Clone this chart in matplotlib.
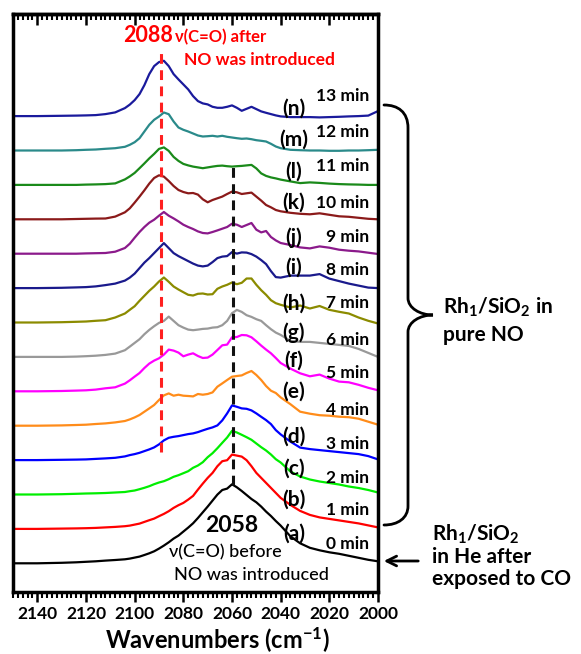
import numpy as np
import matplotlib
matplotlib.use('Agg')
import matplotlib.pyplot as plt
from matplotlib.path import Path
from matplotlib.patches import PathPatch
from matplotlib.ticker import MultipleLocator

plt.rcParams['font.family'] = ['Lato', 'DejaVu Sans']
plt.rcParams['font.weight'] = 'bold'
plt.rcParams['axes.labelweight'] = 'bold'
plt.rcParams['mathtext.fontset'] = 'custom'
plt.rcParams['mathtext.rm'] = 'Lato:bold'
plt.rcParams['mathtext.it'] = 'Lato:bold'
plt.rcParams['mathtext.bf'] = 'Lato:bold'

# ---- data (absorbance in arbitrary units) ----
wavenumber = [2150, 2140, 2130, 2124, 2120, 2116, 2112, 2108,
              2104, 2102, 2100, 2098, 2096, 2094, 2092, 2090, 2088, 2086, 2084, 2082,
              2080, 2078, 2076, 2074, 2072, 2070, 2068, 2066, 2064, 2062, 2060, 2058,
              2056, 2054, 2052, 2050, 2048, 2046, 2044, 2042, 2040,
              2036, 2032, 2028, 2024, 2020, 2016, 2012, 2008, 2004, 2000]

a_0min = [0, 0, 0.5, 1, 1.5, 2, 2.7, 3.3,
          4, 4.7, 5.7, 6.7, 8.3, 10, 12, 14.7, 17.7, 21, 24.7, 27.7, 31.7, 35.7, 40, 45.3,
          51, 56.7, 62.7, 68.7, 73.3, 74.7, 79, 76, 72.3, 68.3, 64.3, 61, 56.7, 51.7, 47.3, 42.3, 37.7,
          27, 20, 15.5, 13, 11, 9.5, 7.5, 5.5, 3.5, 2]
b_1min = [0, 0, 0.3, 0.5, 0.7, 1, 1.5, 2,
          2.7, 3.3, 4.3, 5.3, 7, 8.7, 10.3, 12.7, 15, 17.7, 21, 23.7, 26, 29.3, 33, 39.3,
          45.3, 51, 56, 62.7, 67.7, 68.7, 74.3, 73.3, 72.3, 68.7, 62.7, 56, 51, 46, 41, 36, 31,
          24, 18, 14, 11.5, 10, 8.5, 7, 5.5, 3.5, 1.5]
c_2min = [0, 0, 0.3, 0.7, 1, 1.2, 1.5, 2,
          2.5, 3.3, 4, 5.3, 6.7, 8.3, 10.3, 12, 13.3, 15.3, 17.7, 19.3, 21.3, 23.3, 26.7, 29,
          32.3, 37.3, 41.3, 46.3, 51.7, 57, 63.7, 62, 59.7, 57.3, 54.7, 51, 47.3, 44, 40, 35.3, 32,
          23, 18, 15, 13, 11.5, 10, 8, 6.5, 4.5, 2]
d_3min = [0, 0, 0.3, 0.5, 0.7, 1.2, 1.7, 2.3,
          3.7, 5, 6, 7.3, 9, 10.7, 12.7, 15.7, 19.7, 22.3, 23.3, 24, 25, 26, 26.7, 28,
          29.7, 31.3, 32.7, 34.7, 39.7, 46.7, 54.7, 53.3, 51.7, 51.3, 49.7, 46.7, 43.3, 40, 36, 30, 25.7,
          18.5, 12.5, 11, 10, 9, 8, 7, 6, 4, 0.7]
e_4min = [0, 0, 0.3, 0.7, 1, 1.7, 2.3, 3.3,
          4.7, 6.3, 8.3, 10.7, 14, 17.3, 20.7, 25.7, 30.3, 32.3, 30, 31, 30, 29.7, 29.3, 31.7,
          31, 31.7, 33.3, 39, 42.3, 45.7, 49, 49.7, 50.3, 52.7, 54.7, 50.7, 45.7, 39.7, 35, 32.7, 28.3,
          21.5, 14, 12, 10.5, 10, 9, 8.5, 7, 4, 1]
f_5min = [0, 0, 0.3, 0.7, 1, 1.7, 3, 4,
          7.7, 11, 14.7, 18.3, 23.3, 27.7, 30.7, 33, 36.7, 41.7, 40.7, 38.7, 35, 36.7, 38, 35.3,
          33.3, 33.7, 36.7, 41.3, 46, 46.7, 54, 54.3, 56.3, 56, 54, 50, 45.7, 41.7, 38, 33.3, 28.3,
          22.7, 18, 15, 16.7, 12.7, 9.7, 9, 6.5, 3.5, 1]
g_6min = [0, 0, 0, 0.3, 0.7, 1.2, 2, 3.3,
          6.7, 10.3, 14, 17.7, 22.7, 27, 30.7, 34, 36, 40.3, 36, 31.7, 29.3, 27.3, 26.7, 27.3,
          28, 28.3, 29.3, 29.7, 31.7, 36, 43.7, 47, 45, 41.7, 40, 37.7, 36, 31.7, 27.7, 24.3, 22,
          16, 15, 15, 14, 13, 12, 11, 8, 4, 0]
h_7min = [0, 0, 0.3, 0.7, 1, 1.7, 2.3, 5,
          9, 12.7, 16.3, 21.7, 26.7, 31.7, 36, 41, 45, 40.7, 36, 33, 30.3, 27.7, 27, 28.7,
          29, 28, 28.3, 33.7, 36, 37.7, 40, 38.3, 39.7, 44, 44, 37.7, 32.3, 27.7, 22.3, 19.3, 17.7,
          15, 17, 14, 16.5, 12.7, 10.7, 9, 5, 1.7, -1]
i_8min = [0, 0, 0.3, 0.7, 1, 1.7, 3, 4.5,
          7.5, 10.5, 14.5, 20, 25.5, 30, 35, 40, 45, 40, 35, 32, 29.5, 27, 24.5, 22.5,
          21.7, 22.5, 26, 30, 31.5, 32, 36, 34.5, 35.7, 35.5, 34, 31.5, 28, 24, 17, 11, 10.5,
          12.5, 12.5, 12.5, 14, 9.5, 7, 4.5, 2.5, 0.5, 0]
j_9min = [0, 0, 0, 0, 0.3, 0.5, 0.7, 2,
          5.7, 10, 16, 21.7, 26.7, 31, 34, 38, 41.7, 38, 35.3, 32.3, 29, 26.7, 24.7, 22.3,
          20.7, 20.3, 21.7, 23.3, 25, 26.7, 30, 29, 26.7, 28.7, 30.7, 24, 21.3, 22.7, 16.7, 13.3, 10.7,
          8.7, 6.3, 5.3, 7.3, 6, 4, 3, 2.3, 1, -0.3]
k_10min = [0, 0, 0, 0.3, 0.5, 0.7, 0.8, 2.7,
           7, 11, 16.7, 22.7, 29, 35.7, 41.3, 44, 42.7, 38.3, 33.3, 29.3, 27.3, 26, 26.3, 24.7,
           20, 17, 19.3, 21, 22.7, 25.3, 27.7, 27, 25.3, 26, 26.7, 22.7, 18.7, 14.3, 12, 9.3, 8,
           6.5, 5.5, 5, 6, 4.5, 3, 2.5, 1.5, 0.5, 0]
l_11min = [0, 0, 0, 0, 0.3, 0.5, 0.8, 1.5,
           5.5, 8.5, 12, 16.7, 21.5, 26.5, 31, 36, 37.5, 34, 28, 24, 21, 19.5, 18.3, 17.5,
           16.7, 17.5, 18.3, 19, 19.3, 18.7, 18.3, 18.7, 19, 19.5, 20, 16.5, 11.5, 9, 7.5, 6.5, 5.3,
           3.5, 1.8, 2.5, 2, 1.3, 0.8, 0.5, 0.3, 0, 0]
m_12min = [0, 0, 0, 0.3, 0.7, 1, 1.7, 2.3,
           3.7, 5.7, 8.3, 12.3, 19, 25.7, 30.7, 34, 38, 36.3, 29, 23, 20.7, 19, 17, 15,
           14, 14.3, 14.7, 14, 14.7, 13.7, 13, 12.3, 11.7, 12, 11.3, 10.3, 9.7, 9, 6.7, 4, 2.3,
           0.7, 0.3, 0, 0, -0.3, -0.3, 0, 0, 0.3, 0.7]
n_13min = [0, 0, 0.3, 0.5, 0.7, 1, 2, 3.7,
           8, 11.5, 16, 22, 31, 42, 50, 54, 55.3, 50, 42, 36.7, 31.7, 26.7, 20, 15,
           12.7, 11.7, 9.3, 8.3, 8.3, 9.3, 10.7, 8.3, 5.3, 7.3, 9.3, 7, 4.7, 3.3, 2, 0.7, -0.3,
           -1, -1, -1, -1.3, -1, -0.7, -0.3, 0, 0.5, 5]

spectra = [a_0min, b_1min, c_2min, d_3min, e_4min, f_5min, g_6min,
           h_7min, i_8min, j_9min, k_10min, l_11min, m_12min, n_13min]
letters = ['(a)', '(b)', '(c)', '(d)', '(e)', '(f)', '(g)',
           '(h)', '(i)', '(j)', '(k)', '(l)', '(m)', '(n)']
times = ['0 min', '1 min', '2 min', '3 min', '4 min', '5 min', '6 min',
         '7 min', '8 min', '9 min', '10 min', '11 min', '12 min', '13 min']
colors = ['#000000', '#ff0000', '#00ee00', '#0000ff', '#ff8c1a', '#ff00ff', '#999999',
          '#8b8b00', '#1a1a8c', '#8b1a8b', '#8b1a1a', '#1a8a1a', '#2a8a8a', '#1a1a9c']

# label heights above each baseline (layout)
letter_dy = [29.3, 28.9, 25.5, 23.1, 33.7, 30.3, 23.9, 18.5, 20.1, 15.7, 16.3, 12.9, 10.5, 7.1]
time_dy = [19.3, 18.9, 16.5, 16.1, 15.7, 18.3, 16.9, 19.5, 18.1, 16.7, 16.3, 18.9, 18.5, 20.1]

step = 34.4
line_after = 2089      # where the red dashed guide is drawn
line_before = 2059.5   # where the black dashed guide is drawn

W, H = 581, 654
fig = plt.figure(figsize=(W / 100, H / 100), dpi=100)
ax = fig.add_axes([13 / W, 1 - 592 / H, 365 / W, 578 / H])

x = np.array(wavenumber)
for i, (y, c) in enumerate(zip(spectra, colors)):
    ax.plot(x, np.array(y) + i * step, color=c, lw=1.6, solid_joinstyle='round')
    ax.text(2034.6, i * step + letter_dy[i], letters[i], ha='center', va='center', fontsize=15)
    ax.text(2003.8, i * step + time_dy[i], times[i], ha='right', va='center', fontsize=12.5)

ax.vlines(line_after, 111, 513, colors='#ff2020', lw=2.2, linestyles=(0, (3.2, 2.1)))
ax.vlines(line_before, 78, 400, colors='#111111', lw=2.2, linestyles=(0, (3.2, 2.1)))

ax.text(2094.5, 521.3, '2088', color='#ff0000', fontsize=15.5, ha='center', va='baseline')
ax.text(2083.4, 521.3, 'ν(C=O) after', color='#ff0000', fontsize=12, ha='left', va='baseline')
ax.text(2048.7, 498.5, 'NO was introduced', color='#ff0000', fontsize=12.5, ha='center', va='baseline')
ax.text(2060, 31.5, '2058', color='black', fontsize=16.5, ha='center', va='baseline')
ax.text(2062.6, 6.3, 'ν(C=O) before', color='black', fontsize=13, fontweight='medium',
        ha='center', va='baseline')
ax.text(2052, -16.7, 'NO was introduced', color='black', fontsize=13, fontweight='medium',
        ha='center', va='baseline')

ax.set_xlim(2150, 2000)
ax.set_ylim(-28.7, 549.3)
ax.xaxis.set_minor_locator(MultipleLocator(2))
ax.set_xticks(np.arange(2000, 2141, 20))
for t in ax.get_xticklabels():
    t.set_fontweight('bold')
ax.tick_params(axis='x', which='major', direction='out', length=7, width=1.8,
               labelsize=12.5, pad=3, top=False)
ax.tick_params(axis='x', which='minor', direction='out', length=4, width=1.5, top=False)
ax.set_yticks([])
for s in ax.spines.values():
    s.set_linewidth(2.5)

# ticks pointing in along the top
top = ax.secondary_xaxis('top')
top.xaxis.set_major_locator(MultipleLocator(20))
top.xaxis.set_minor_locator(MultipleLocator(2))
top.tick_params(which='major', direction='in', length=8, width=1.8, labeltop=False)
top.tick_params(which='minor', direction='in', length=4, width=1.5)
top.spines['top'].set_linewidth(2.5)

ax.set_xlabel('Wavenumbers (cm$^{-1}$)', fontsize=17, fontweight='bold', labelpad=2)
ax.xaxis.set_label_coords((217 - 13) / 365, -0.058)

# right-hand brace and annotations, pixel positions converted to figure fraction
def fpt(px, py):
    return (px / W, 1 - py / H)

brace = [(384, 105), (398, 105), (408, 112), (408, 128),
         (408, 298),
         (408, 308), (420, 315), (433, 315),
         (420, 315), (408, 322), (408, 332),
         (408, 506),
         (408, 518), (398, 525), (384, 525)]
codes = [Path.MOVETO, Path.CURVE4, Path.CURVE4, Path.CURVE4,
         Path.LINETO,
         Path.CURVE4, Path.CURVE4, Path.CURVE4,
         Path.CURVE4, Path.CURVE4, Path.CURVE4,
         Path.LINETO,
         Path.CURVE4, Path.CURVE4, Path.CURVE4]
fig.patches.append(PathPatch(Path([fpt(*p) for p in brace], codes), fill=False, lw=2,
                             ec='black', transform=fig.transFigure, capstyle='round'))

fig.text(*fpt(443, 314), 'Rh$_1$/SiO$_2$ in', fontsize=15, va='baseline')
fig.text(*fpt(443, 341), 'pure NO', fontsize=15, va='baseline')
fig.text(*fpt(432, 541), 'Rh$_1$/SiO$_2$', fontsize=15, va='baseline')
fig.text(*fpt(432, 563), 'in He after', fontsize=15, va='baseline')
fig.text(*fpt(432, 585), 'exposed to CO', fontsize=15, va='baseline')
ax.annotate('', xy=fpt(381, 561), xytext=fpt(421, 561), xycoords='figure fraction',
            textcoords='figure fraction',
            arrowprops=dict(arrowstyle='->,head_length=0.7,head_width=0.35', lw=2, color='black'))

fig.savefig('out.png', dpi=100)
